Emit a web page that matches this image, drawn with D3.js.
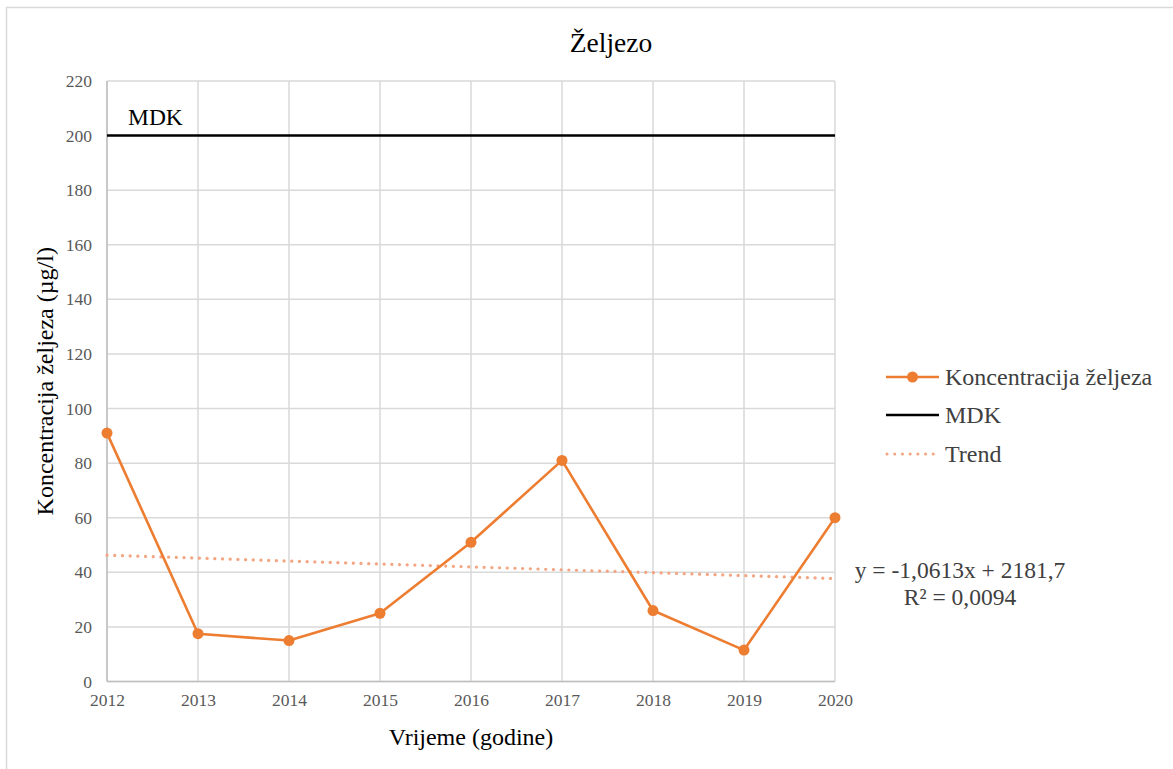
<!DOCTYPE html>
<html><head><meta charset="utf-8">
<script src="https://cdn.jsdelivr.net/npm/d3@7"></script>
<style>body{margin:0;background:#fff}</style>
</head><body><svg id="c" width="1173" height="769"></svg>
<script>
const years = [2012, 2013, 2014, 2015, 2016, 2017, 2018, 2019, 2020];
const values = [91, 17.5, 15, 25, 51, 81, 26, 11.5, 60];
const mdk = 200;
const yTicks = [0, 20, 40, 60, 80, 100, 120, 140, 160, 180, 200, 220];
const legendLabels = ["Koncentracija željeza", "MDK", "Trend"];
const eqLines = ["y = -1,0613x + 2181,7", "R² = 0,0094"];

const FONT = "'Liberation Serif', Tinos, 'Times New Roman', 'DejaVu Serif', serif";
const svg = d3.select("#c").attr("font-family", FONT).style("font-family", FONT);
svg.append("rect").attr("x",6.5).attr("y",7.5).attr("width",1200).attr("height",800)
  .attr("fill","#fff").attr("stroke","#d9d9d9").attr("stroke-width",1.5);

const L=107, R=835, T=81, B=681.5;
const x = d3.scaleLinear().domain([2012,2020]).range([L,R]);
const y = d3.scaleLinear().domain([0,220]).range([B,T]);

// gridlines
const g = svg.append("g");
g.selectAll(".hg").data(yTicks).join("line")
  .attr("x1",L).attr("x2",R).attr("y1",d=>y(d)).attr("y2",d=>y(d))
  .attr("stroke","#d9d9d9").attr("stroke-width",1.5);
g.selectAll(".vg").data(years).join("line")
  .attr("x1",d=>x(d)).attr("x2",d=>x(d)).attr("y1",T).attr("y2",B)
  .attr("stroke","#d9d9d9").attr("stroke-width",1.5);
g.append("line").attr("x1",L).attr("x2",L).attr("y1",T).attr("y2",B).attr("stroke","#bfbfbf").attr("stroke-width",1.5);
g.append("line").attr("x1",L).attr("x2",R).attr("y1",B).attr("y2",B).attr("stroke","#bfbfbf").attr("stroke-width",1.5);

// axes via d3
const ya = svg.append("g").attr("transform",`translate(${L},0)`)
  .call(d3.axisLeft(y).tickValues(yTicks).tickSize(0).tickPadding(15).tickFormat(d3.format("d")));
ya.attr("font-family", FONT).attr("font-size",17.5);
ya.select(".domain").remove();
ya.selectAll("text").attr("fill","#595959").attr("dy","0.32em").style("font-family", FONT);
const xa = svg.append("g").attr("transform",`translate(0,${B})`)
  .call(d3.axisBottom(x).tickValues(years).tickSize(0).tickPadding(12).tickFormat(d3.format("d")));
xa.attr("font-family", FONT).attr("font-size",17.5);
xa.select(".domain").remove();
xa.selectAll("text").attr("fill","#595959").style("font-family", FONT);

// trend (least squares from data)
const mx = d3.mean(years), my = d3.mean(values);
const slope = d3.sum(years.map((v,i)=>(v-mx)*(values[i]-my))) / d3.sum(years.map(v=>(v-mx)**2));
const icpt = my - slope*mx;
svg.append("line").attr("x1",x(2012)).attr("x2",x(2020))
  .attr("y1",y(icpt+slope*2012)).attr("y2",y(icpt+slope*2020))
  .attr("stroke","#f4a582").attr("stroke-width",3.2).attr("stroke-linecap","round").attr("stroke-dasharray","0.1 7.6");

// MDK line
svg.append("line").attr("x1",x(2012)).attr("x2",x(2020)).attr("y1",y(mdk)).attr("y2",y(mdk))
  .attr("stroke","#000").attr("stroke-width",2.5);
svg.append("text").attr("x",128).attr("y",125).attr("font-size",23.5).attr("fill","#000").text("MDK");

// series
const orange = "#ed7d31";
svg.append("path").datum(values)
  .attr("d", d3.line().x((d,i)=>x(years[i])).y(d=>y(d)))
  .attr("fill","none").attr("stroke",orange).attr("stroke-width",2.6).attr("stroke-linejoin","round");
svg.selectAll(".pt").data(values).join("circle")
  .attr("cx",(d,i)=>x(years[i])).attr("cy",d=>y(d)).attr("r",5.5).attr("fill",orange);

// title and axis titles
svg.append("text").attr("x",611).attr("y",52).attr("text-anchor","middle").attr("font-size",27.5).attr("fill","#000").text("Željezo");
svg.append("text").attr("x",(L+R)/2).attr("y",745).attr("text-anchor","middle").attr("font-size",24).attr("fill","#000").text("Vrijeme (godine)");
svg.append("text").attr("transform",`translate(53,${(T+B)/2}) rotate(-90)`).attr("text-anchor","middle").attr("font-size",24).attr("fill","#000").text("Koncentracija željeza (µg/l)");

// legend
const lg = svg.append("g");
const ly = [377, 415, 454];
lg.append("line").attr("x1",886).attr("x2",939).attr("y1",ly[0]).attr("y2",ly[0]).attr("stroke",orange).attr("stroke-width",2.6);
lg.append("circle").attr("cx",912.5).attr("cy",ly[0]).attr("r",5.5).attr("fill",orange);
lg.append("line").attr("x1",886).attr("x2",939).attr("y1",ly[1]).attr("y2",ly[1]).attr("stroke","#000").attr("stroke-width",2.5);
lg.append("line").attr("x1",887).attr("x2",936).attr("y1",ly[2]).attr("y2",ly[2]).attr("stroke","#f4a582").attr("stroke-width",3).attr("stroke-linecap","round").attr("stroke-dasharray","0.1 7.6");
lg.selectAll(".lt").data(legendLabels).join("text")
  .attr("x",945).attr("y",(d,i)=>ly[i]+7.5).attr("font-size",24).attr("fill","#404040").text(d=>d);

// equation
svg.append("text").attr("x",960).attr("y",578).attr("text-anchor","middle").attr("font-size",23.5).attr("fill","#404040").text(eqLines[0]);
svg.append("text").attr("x",960).attr("y",605).attr("text-anchor","middle").attr("font-size",23.5).attr("fill","#404040").text(eqLines[1]);
</script></body></html>
